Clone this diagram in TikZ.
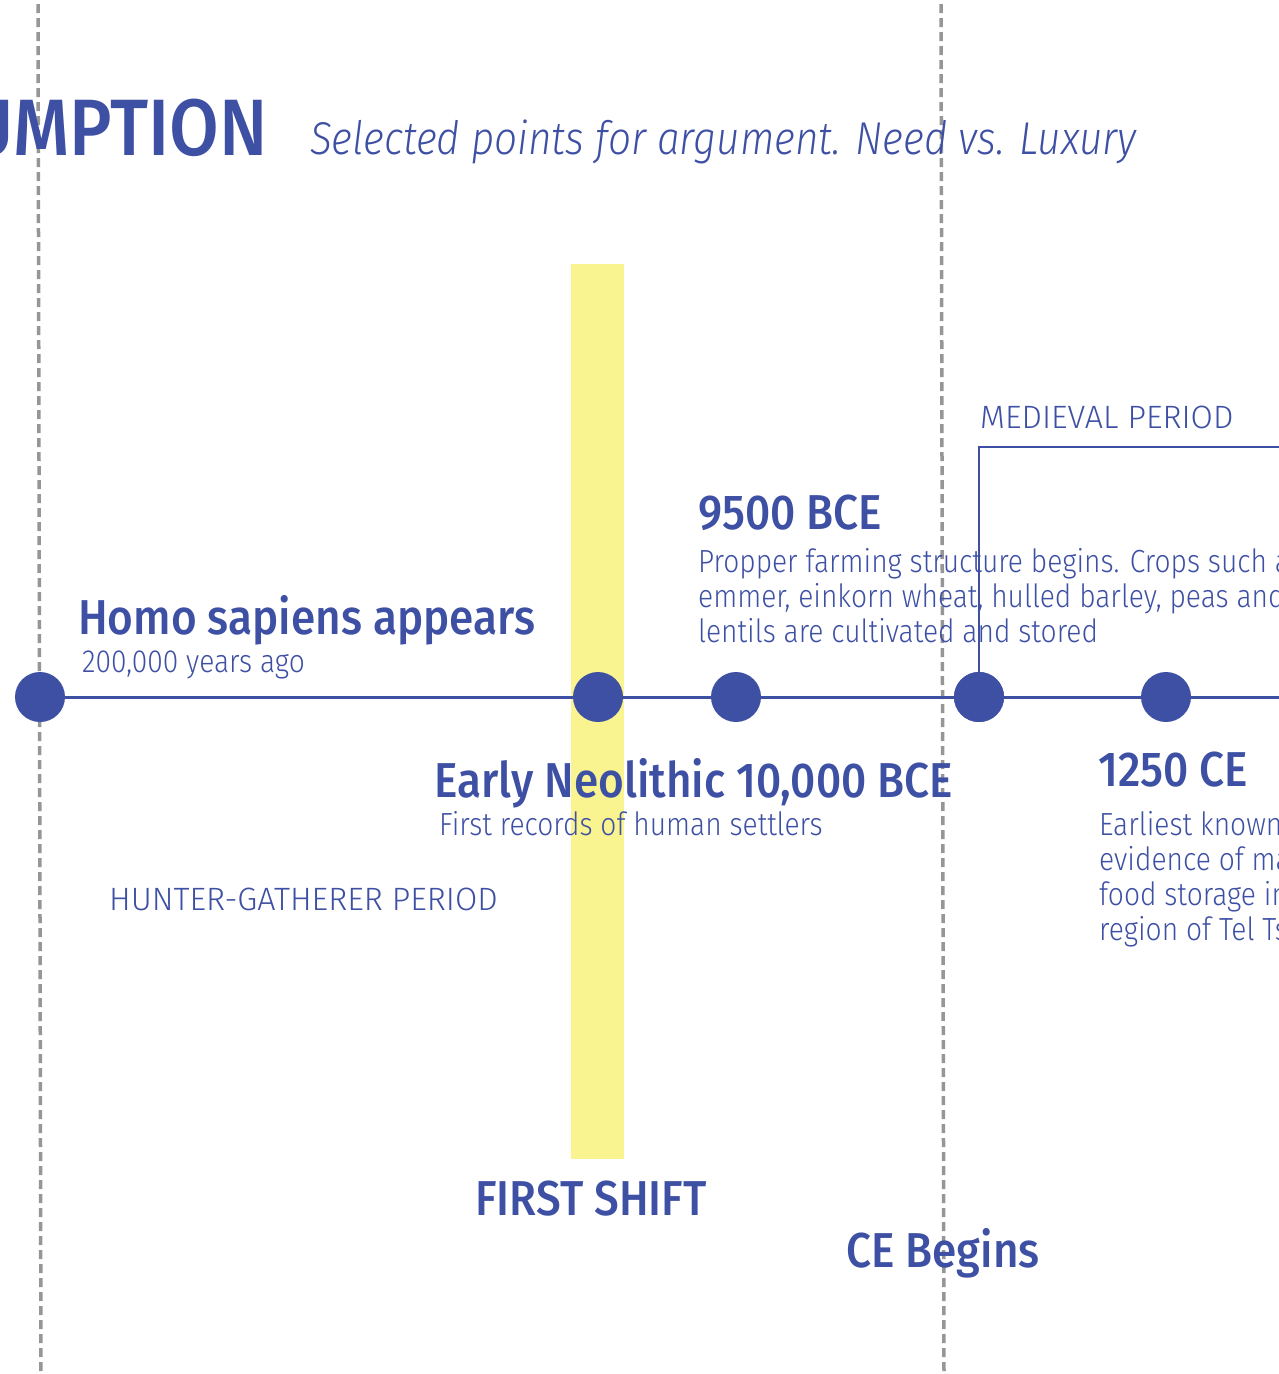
\documentclass[tikz,border=0pt]{standalone}
\usepackage{fontspec}
\setmainfont{Fira Sans Light}[ItalicFont={Fira Sans Light Italic},FakeStretch=0.88]
\newfontfamily\headfont{Fira Sans Medium}[FakeStretch=0.9]
\newfontfamily\periodfont{Fira Sans Light}
\definecolor{tlblue}{RGB}{62,80,164}
\definecolor{shiftyellow}{RGB}{249,244,143}
\definecolor{guidegray}{RGB}{150,150,150}
\begin{document}
\begin{tikzpicture}[x=1pt, y=-1pt,
  guide/.style={guidegray, line width=3.5pt, dash pattern=on 9pt off 5pt},
  axis/.style={tlblue, line width=3pt},
  dot/.style={circle, fill=tlblue, minimum size=50pt, inner sep=0pt},
  txt/.style={tlblue, anchor=base west, inner sep=0pt},
  head/.style={txt, font=\headfont\fontsize{49}{49}\selectfont},
  body/.style={txt, align=left, font=\fontsize{32}{35}\selectfont},
  period/.style={txt, font=\periodfont\fontsize{32.3}{33}\selectfont}]
\useasboundingbox (0,0) rectangle (1279,1374);
\clip (0,0) rectangle (1279,1374);
% the first shift band
\fill[shiftyellow] (571,264) rectangle (624,1159);
% guides
\draw[guide] (38,4) -- (41,1374);
\draw[guide] (941,4) -- (944,1374);
% title line
\node[txt, anchor=base east, font=\headfont\fontsize{80}{80}\selectfont] (title) at (268,155) {CONSUMPTION};
\node[txt, font=\itshape\fontsize{46}{46}\selectfont] (subtitle) at (310,154) {Selected points for argument. Need vs. Luxury};
% timeline
\coordinate (tlend) at (1300,697);
\coordinate (medend) at (1300,447);
\node[dot] (homo) at (40,697) {};
\node[dot] (neo) at (598,697) {};
\node[dot] (farm) at (736,697) {};
\node[dot] (medieval) at (979,697) {};
\node[dot] (store) at (1166,697) {};
\draw[axis] (homo) -- (neo) -- (farm) -- (medieval) -- (store) -- (tlend);
\draw[tlblue, line width=2pt] (medieval.center) |- (medend);
\node[dot] at (medieval) {};
\node[period] (medlabel) at (980,428) {MEDIEVAL PERIOD};
% events (multi-line bodies sit on their last line)
\node[head] (homohead) at (78,634) {Homo sapiens appears};
\node[body] (homobody) at (82,672) {200,000 years ago};
\node[head] (farmhead) at (698,529) {9500 BCE};
\node[body] (farmbody) at (698,642) {Propper farming structure begins. Crops such as\\emmer, einkorn wheat, hulled barley, peas and\\lentils are cultivated and stored};
\node[head] (neohead) at (434,797) {Early Neolithic 10,000 BCE};
\node[body] (neobody) at (439,835) {First records of human settlers};
\node[period] (hglabel) at (109,910) {HUNTER-GATHERER PERIOD};
\node[head] (storehead) at (1098,786) {1250 CE};
\node[body] (storebody) at (1099,940) {Earliest known\\evidence of mass\\food storage in the\\region of Tel Tsaf};
\node[head] (shift) at (475,1215) {FIRST SHIFT};
\node[head] (ce) at (846,1267) {CE Begins};
\end{tikzpicture}
\end{document}
